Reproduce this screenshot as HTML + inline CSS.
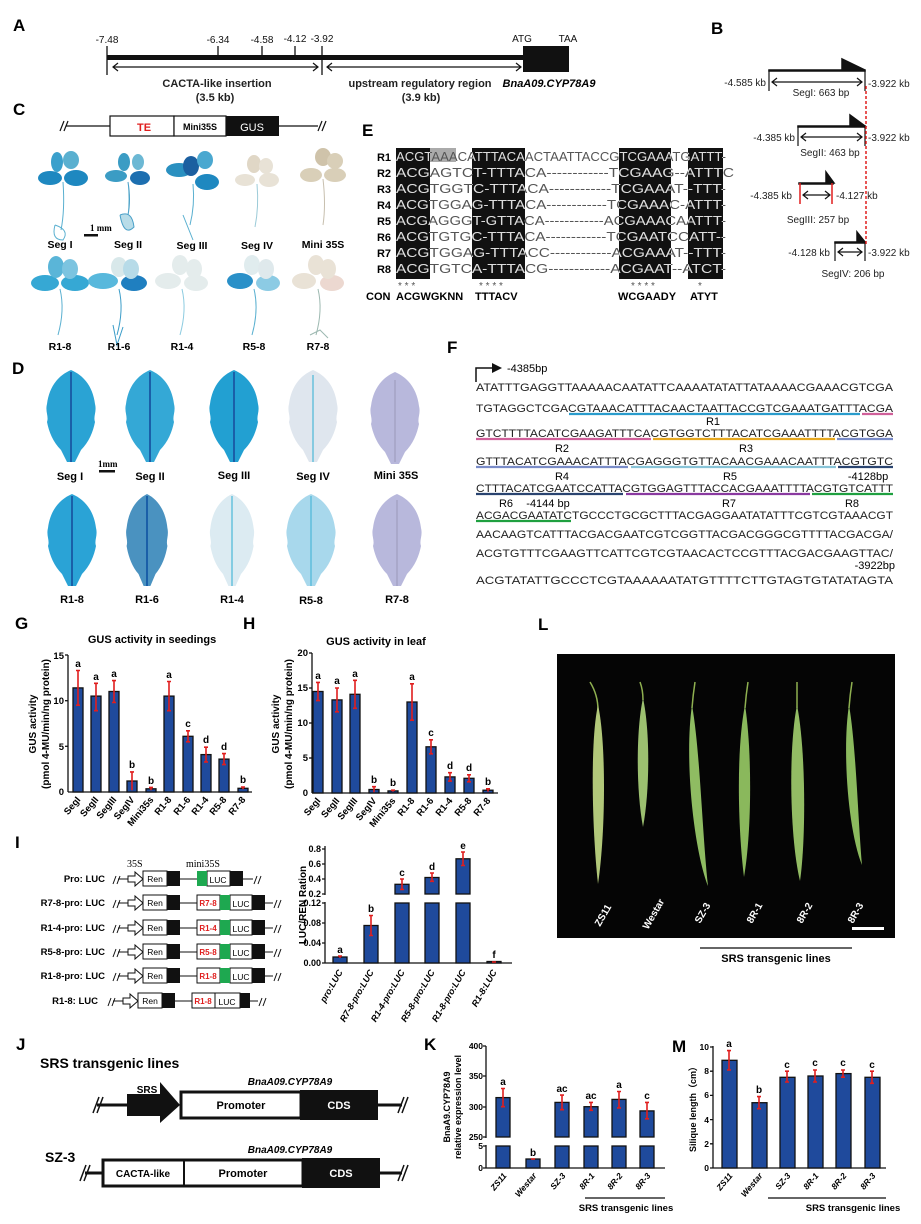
<!DOCTYPE html>
<html><head><meta charset="utf-8"><style>
html,body{margin:0;padding:0;background:#fff}
svg{display:block}
text{font-family:"Liberation Sans",sans-serif}
.b{font-weight:bold}
.ser{font-family:"Liberation Serif",serif}
.mono{font-family:"Liberation Mono",monospace}
.bar{fill:#1f4a9c;stroke:#111;stroke-width:1.3}
.err{stroke:#e01e1e;stroke-width:1.6;fill:none}
.ax{stroke:#111;stroke-width:1.3;fill:none}
</style></head><body>
<svg width="921" height="1224" viewBox="0 0 921 1224" xmlns="http://www.w3.org/2000/svg">
<rect width="921" height="1224" fill="#fff"/>

<!-- A -->
<text x="13" y="31" class="b" font-size="17">A</text>
<g font-size="10" text-anchor="middle" fill="#111">
<text x="107" y="43">-7.48</text><text x="218" y="43">-6.34</text><text x="262" y="43">-4.58</text><text x="295" y="42">-4.12</text><text x="322" y="42">-3.92</text>
<text x="522" y="42">ATG</text><text x="568" y="42">TAA</text></g>
<rect x="107" y="55" width="416" height="5" fill="#111"/>
<g class="ax"><line x1="107" y1="46" x2="107" y2="75"/><line x1="218" y1="46" x2="218" y2="56"/><line x1="262" y1="46" x2="262" y2="56"/><line x1="295" y1="46" x2="295" y2="56"/><line x1="322" y1="46" x2="322" y2="75"/></g>
<rect x="523" y="46" width="46" height="26" fill="#111"/>
<g stroke="#111" stroke-width="1.2" fill="none">
<line x1="113" y1="67" x2="318" y2="67"/><path d="M118 63 L113 67 L118 71 M313 63 L318 67 L313 71"/>
<line x1="327" y1="67" x2="521" y2="67"/><path d="M332 63 L327 67 L332 71 M516 63 L521 67 L516 71"/></g>
<g font-size="11" text-anchor="middle" fill="#222" class="b">
<text x="217" y="87">CACTA-like insertion</text><text x="215" y="101">(3.5 kb)</text>
<text x="420" y="87">upstream regulatory region</text><text x="421" y="101">(3.9 kb)</text></g>
<text x="549" y="87" font-size="11" text-anchor="middle" class="b" font-style="italic">BnaA09.CYP78A9</text>

<!-- B -->
<text x="711" y="34" class="b" font-size="17">B</text>
<g fill="#111" stroke="#111" stroke-width="1.5">
<path d="M769 70 L865 70 L865 71 L769 71Z M842 70 L842 59 L865 70Z"/>
<path d="M798 126 L865 126 L865 127 L798 127Z M850 126 L850 115 L865 126Z"/>
<path d="M799 183 L833 183 L833 184 L799 184Z M826 183 L826 172 L834 183Z"/>
<path d="M835 242 L865 242 L865 243 L835 243Z M857 242 L857 232 L865 242Z"/>
</g>
<g stroke="#111" stroke-width="1.2" fill="none">
<line x1="769" y1="70" x2="769" y2="91"/><line x1="865" y1="70" x2="865" y2="91"/>
<line x1="772" y1="82" x2="862" y2="82"/><path d="M777 78 L772 82 L777 86 M857 78 L862 82 L857 86"/>
<line x1="798" y1="126" x2="798" y2="146"/><line x1="865" y1="126" x2="865" y2="146"/>
<line x1="801" y1="137" x2="862" y2="137"/><path d="M806 133 L801 137 L806 141 M857 133 L862 137 L857 141"/>
<line x1="803" y1="195" x2="830" y2="195"/><path d="M808 191 L803 195 L808 199 M825 191 L830 195 L825 199"/>
<line x1="835" y1="242" x2="835" y2="261"/><line x1="865" y1="242" x2="865" y2="261"/>
<line x1="838" y1="252" x2="862" y2="252"/><path d="M843 248 L838 252 L843 256 M857 248 L862 252 L857 256"/>
</g>
<g stroke="#e01e1e" stroke-width="1.5"><line x1="800" y1="183" x2="800" y2="204"/><line x1="832" y1="183" x2="832" y2="204"/></g>
<line x1="866" y1="86" x2="866" y2="244" stroke="#e01e1e" stroke-width="1.5" stroke-dasharray="3,2"/>
<g font-size="10" fill="#222">
<text x="766" y="86" text-anchor="end">-4.585 kb</text><text x="868" y="87">-3.922 kb</text><text x="821" y="96" text-anchor="middle">SegI: 663 bp</text>
<text x="795" y="141" text-anchor="end">-4.385 kb</text><text x="868" y="141">-3.922 kb</text><text x="830" y="156" text-anchor="middle">SegII: 463 bp</text>
<text x="792" y="199" text-anchor="end">-4.385 kb</text><text x="836" y="199">-4.127 kb</text><text x="818" y="223" text-anchor="middle">SegIII: 257 bp</text>
<text x="830" y="256" text-anchor="end">-4.128 kb</text><text x="868" y="256">-3.922 kb</text><text x="853" y="277" text-anchor="middle">SegIV: 206 bp</text>
</g>

<!-- C -->
<text x="13" y="115" class="b" font-size="17">C</text>
<g stroke="#111" stroke-width="1.2" fill="none"><line x1="66" y1="126" x2="110" y2="126"/><line x1="279" y1="126" x2="318" y2="126"/>
<path d="M60 131 L64 121 M64 131 L68 121 M318 131 L322 121 M322 131 L326 121"/></g>
<rect x="110" y="116" width="64" height="20" fill="#fff" stroke="#111" stroke-width="1.2"/>
<rect x="174" y="116" width="52" height="20" fill="#fff" stroke="#111" stroke-width="1.2"/>
<rect x="226" y="116" width="53" height="20" fill="#111"/>
<text x="144" y="131" fill="#e01e1e" font-size="11" class="b" text-anchor="middle">TE</text>
<text x="200" y="130" font-size="9" class="b" text-anchor="middle">Mini35S</text>
<text x="252" y="131" font-size="11" fill="#fff" text-anchor="middle">GUS</text>

<!-- seedlings -->
<g>
<g transform="translate(63,170)" fill="#1e88c0"><ellipse cx="-13" cy="8" rx="12" ry="7"/><ellipse cx="13" cy="8" rx="12" ry="8"/><ellipse cx="-6" cy="-8" rx="6" ry="10" fill="#3aa0cc"/><ellipse cx="8" cy="-10" rx="8" ry="9" fill="#5ab0d0"/><path d="M0 12 Q2 40 -2 60 M-8 55 q15 5 8 15 q-12 0 -8 -15" stroke="#5ab0d0" fill="none"/></g>
<g transform="translate(128,170)" fill="#3b9cc4"><ellipse cx="-12" cy="6" rx="11" ry="6"/><ellipse cx="12" cy="8" rx="10" ry="7" fill="#1d6fb0"/><ellipse cx="-4" cy="-8" rx="6" ry="9"/><ellipse cx="10" cy="-8" rx="6" ry="8" fill="#6cb8d4"/><path d="M0 12 Q3 30 0 45 M-8 45 q12 -5 14 12 q-10 10 -14 -12" stroke="#4aa0c8" fill="#b8dce8"/></g>
<g transform="translate(193,170)" fill="#2a90c0"><ellipse cx="-14" cy="0" rx="13" ry="7"/><ellipse cx="14" cy="12" rx="12" ry="8" fill="#1e88c0"/><ellipse cx="-2" cy="-4" rx="8" ry="10" fill="#1b5fa0"/><ellipse cx="12" cy="-10" rx="8" ry="9" fill="#4aa8d0"/><path d="M0 14 Q2 35 -3 55 M-10 45 l10 25" stroke="#5ab0d0" fill="none"/></g>
<g transform="translate(257,172)" fill="#e8e2d6"><ellipse cx="-12" cy="8" rx="10" ry="6"/><ellipse cx="12" cy="8" rx="10" ry="7"/><ellipse cx="-3" cy="-8" rx="7" ry="9" fill="#e0d7c6"/><ellipse cx="9" cy="-6" rx="7" ry="8"/><path d="M0 12 Q2 35 -2 55" stroke="#9ccbd8" fill="none"/></g>
<g transform="translate(323,165)" fill="#d9cfb8"><ellipse cx="-12" cy="10" rx="11" ry="7"/><ellipse cx="12" cy="10" rx="11" ry="7"/><ellipse cx="0" cy="-8" rx="8" ry="9" fill="#cfc3aa"/><ellipse cx="12" cy="-4" rx="8" ry="8"/><path d="M0 14 Q3 40 0 60" stroke="#c7bfae" fill="none"/></g>
<g transform="translate(60,275)" fill="#36a8d4"><ellipse cx="-15" cy="8" rx="14" ry="8"/><ellipse cx="15" cy="8" rx="14" ry="8"/><ellipse cx="-4" cy="-8" rx="8" ry="11" fill="#5ab5d8"/><ellipse cx="10" cy="-6" rx="8" ry="10" fill="#7cc4e0"/><path d="M0 14 Q5 35 -2 60" stroke="#5ab0d0" fill="none"/></g>
<g transform="translate(119,275)" fill="#58b8dc"><ellipse cx="-16" cy="6" rx="15" ry="8"/><ellipse cx="15" cy="8" rx="13" ry="8" fill="#1f7fc0"/><ellipse cx="0" cy="-8" rx="8" ry="10" fill="#d8e8ea"/><ellipse cx="12" cy="-6" rx="8" ry="10" fill="#b7dbe8"/><path d="M0 14 Q5 35 -2 60 M-6 50 l4 20 l6 -18" stroke="#3a9cc8" fill="none"/></g>
<g transform="translate(182,275)" fill="#e4ecec"><ellipse cx="-14" cy="6" rx="13" ry="8"/><ellipse cx="14" cy="8" rx="12" ry="8"/><ellipse cx="-2" cy="-10" rx="8" ry="10"/><ellipse cx="12" cy="-6" rx="8" ry="10"/><path d="M0 14 Q5 35 -2 60" stroke="#8ccbe0" fill="none"/></g>
<g transform="translate(254,275)" fill="#8ccbe4"><ellipse cx="-14" cy="6" rx="13" ry="8" fill="#2a90c8"/><ellipse cx="14" cy="8" rx="12" ry="8"/><ellipse cx="-2" cy="-10" rx="8" ry="10" fill="#e0ecee"/><ellipse cx="12" cy="-6" rx="8" ry="10" fill="#dfe9ec"/><path d="M0 14 Q5 35 -2 60" stroke="#5ab0d0" fill="none"/></g>
<g transform="translate(318,275)" fill="#e9e2d6"><ellipse cx="-14" cy="6" rx="12" ry="8"/><ellipse cx="14" cy="8" rx="12" ry="8" fill="#ecd8d0"/><ellipse cx="-2" cy="-10" rx="8" ry="10"/><ellipse cx="10" cy="-6" rx="8" ry="10"/><path d="M0 14 Q5 35 -2 60 M-8 60 l10 -5 l8 8" stroke="#9cb8b0" fill="none"/></g>
</g>
<text x="90" y="231" class="b ser" font-size="9">1 mm</text><rect x="84" y="234" width="14" height="2.5" fill="#111"/>
<g font-size="10.5" class="b" text-anchor="middle">
<text x="60" y="248">Seg I</text><text x="128" y="248">Seg II</text><text x="192" y="249">Seg III</text><text x="257" y="249">Seg IV</text><text x="323" y="248">Mini 35S</text>
<text x="60" y="350">R1-8</text><text x="119" y="350">R1-6</text><text x="182" y="350">R1-4</text><text x="254" y="350">R5-8</text><text x="318" y="350">R7-8</text></g>

<!-- E -->
<text x="362" y="136" class="b" font-size="17">E</text>
<defs>
<clipPath id="blk"><rect x="396" y="148" width="34" height="131"/><rect x="472" y="148" width="53" height="131"/><rect x="619" y="148" width="52" height="131"/><rect x="688" y="148" width="35" height="131"/></clipPath>
</defs>
<g fill="#111"><rect x="396" y="148" width="34" height="131"/><rect x="472" y="148" width="53" height="131"/><rect x="619" y="148" width="52" height="131"/><rect x="688" y="148" width="35" height="131"/></g>
<rect x="430" y="148" width="26" height="14" fill="#aaa"/>
<g font-size="11" class="b" text-anchor="end">
<text x="391" y="161">R1</text><text x="391" y="177">R2</text><text x="391" y="193">R3</text><text x="391" y="209">R4</text><text x="391" y="225">R5</text><text x="391" y="241">R6</text><text x="391" y="257">R7</text><text x="391" y="273">R8</text></g>
<g class="mono" font-size="13" fill="#555">
<text x="396" y="161" textLength="330" lengthAdjust="spacingAndGlyphs">ACGTAAACATTTACAACTAATTACCGTCGAAATGATTT-</text>
<text x="396" y="177" textLength="338" lengthAdjust="spacingAndGlyphs">ACGAGTCT-TTTACA------------TCGAAG--ATTTC</text>
<text x="396" y="193" textLength="330" lengthAdjust="spacingAndGlyphs">ACGTGGTC-TTTACA------------TCGAAAT--TTT-</text>
<text x="396" y="209" textLength="330" lengthAdjust="spacingAndGlyphs">ACGTGGAG-TTTACA------------TCGAAAC-ATTT-</text>
<text x="396" y="225" textLength="330" lengthAdjust="spacingAndGlyphs">ACGAGGGT-GTTACA------------ACGAAACAATTT-</text>
<text x="396" y="241" textLength="330" lengthAdjust="spacingAndGlyphs">ACGTGTGC-TTTACA------------TCGAATCCATT--</text>
<text x="396" y="257" textLength="330" lengthAdjust="spacingAndGlyphs">ACGTGGAG-TTTACC------------ACGAAAT--TTT-</text>
<text x="396" y="273" textLength="330" lengthAdjust="spacingAndGlyphs">ACGTGTCA-TTTACG------------ACGAAT--ATCT-</text>
</g>
<g clip-path="url(#blk)" class="mono" font-size="13" fill="#ddd">
<text x="396" y="161" textLength="330" lengthAdjust="spacingAndGlyphs">ACGTAAACATTTACAACTAATTACCGTCGAAATGATTT-</text>
<text x="396" y="177" textLength="338" lengthAdjust="spacingAndGlyphs">ACGAGTCT-TTTACA------------TCGAAG--ATTTC</text>
<text x="396" y="193" textLength="330" lengthAdjust="spacingAndGlyphs">ACGTGGTC-TTTACA------------TCGAAAT--TTT-</text>
<text x="396" y="209" textLength="330" lengthAdjust="spacingAndGlyphs">ACGTGGAG-TTTACA------------TCGAAAC-ATTT-</text>
<text x="396" y="225" textLength="330" lengthAdjust="spacingAndGlyphs">ACGAGGGT-GTTACA------------ACGAAACAATTT-</text>
<text x="396" y="241" textLength="330" lengthAdjust="spacingAndGlyphs">ACGTGTGC-TTTACA------------TCGAATCCATT--</text>
<text x="396" y="257" textLength="330" lengthAdjust="spacingAndGlyphs">ACGTGGAG-TTTACC------------ACGAAAT--TTT-</text>
<text x="396" y="273" textLength="330" lengthAdjust="spacingAndGlyphs">ACGTGTCA-TTTACG------------ACGAAT--ATCT-</text>
</g>
<g font-size="10" fill="#555"><text x="398" y="289">* * *</text><text x="479" y="289">* * * *</text><text x="631" y="289">* * * *</text><text x="698" y="289">*</text></g>
<g font-size="11" class="b"><text x="366" y="300">CON</text><text x="396" y="300">ACGWGKNN</text><text x="475" y="300">TTTACV</text><text x="618" y="300">WCGAADY</text><text x="690" y="300">ATYT</text></g>

<!-- D leaves -->
<text x="12" y="374" class="b" font-size="17">D</text>
<defs><path id="leaf" d="M0 -46 C14 -40 22 -28 24 -12 C26 -4 22 0 24 6 C22 16 18 26 10 34 L4 46 L-4 46 L-10 34 C-18 26 -22 16 -24 6 C-22 0 -26 -4 -24 -12 C-22 -28 -14 -40 0 -46Z"/></defs>
<g>
<use href="#leaf" x="71" y="416" fill="#2aa3d4"/><use href="#leaf" x="150" y="416" fill="#34a8d6"/><use href="#leaf" x="234" y="416" fill="#22a0d2"/><use href="#leaf" x="313" y="416" fill="#dfe6ee"/><use href="#leaf" x="395" y="418" fill="#b8b8dc"/>
<use href="#leaf" x="72" y="540" fill="#2aa3d6"/><use href="#leaf" x="147" y="540" fill="#4a92c0" transform="translate(147 540) scale(0.85 1) translate(-147 -540)"/><use href="#leaf" x="232" y="540" fill="#dcebf2" transform="translate(232 540) scale(0.9 1) translate(-232 -540)"/><use href="#leaf" x="311" y="540" fill="#a8d8ec"/><use href="#leaf" x="397" y="540" fill="#b8b8dc"/>
</g>
<g stroke="#1a5fa8" stroke-width="2"><line x1="71" y1="372" x2="71" y2="462"/><line x1="150" y1="372" x2="150" y2="462"/><line x1="234" y1="372" x2="234" y2="462"/><line x1="72" y1="496" x2="72" y2="586"/><line x1="147" y1="496" x2="147" y2="586"/></g>
<g stroke="#4ab8d8" stroke-width="1.2"><line x1="313" y1="375" x2="313" y2="462"/><line x1="232" y1="496" x2="232" y2="586"/><line x1="311" y1="496" x2="311" y2="586"/></g>
<g stroke="#9a98b8" stroke-width="1"><line x1="395" y1="380" x2="395" y2="462"/><line x1="397" y1="500" x2="397" y2="586"/></g>
<text x="98" y="467" class="b ser" font-size="9">1mm</text><rect x="99" y="470" width="16" height="2.5" fill="#111"/>
<g font-size="11" class="b" text-anchor="middle">
<text x="70" y="480">Seg I</text><text x="150" y="480">Seg II</text><text x="234" y="479">Seg III</text><text x="313" y="480">Seg IV</text><text x="396" y="479">Mini 35S</text>
<text x="72" y="603">R1-8</text><text x="147" y="603">R1-6</text><text x="232" y="603">R1-4</text><text x="311" y="604">R5-8</text><text x="397" y="603">R7-8</text></g>

<!-- F -->
<text x="447" y="353" class="b" font-size="17">F</text>
<path d="M476 382 L476 368 L495 368" stroke="#111" stroke-width="1.5" fill="none"/><path d="M492 363 L502 368 L492 373Z" fill="#111"/>
<text x="507" y="372" font-size="11">-4385bp</text>
<g class="ser" font-size="11" fill="#222">
<text x="476" y="391" textLength="417" lengthAdjust="spacingAndGlyphs">ATATTTGAGGTTAAAAACAATATTCAAAATATATTATAAAACGAAACGTCGA</text>
<text x="476" y="412" textLength="417" lengthAdjust="spacingAndGlyphs">TGTAGGCTCGACGTAAACATTTACAACTAATTACCGTCGAAATGATTTACGA</text>
<text x="476" y="437" textLength="417" lengthAdjust="spacingAndGlyphs">GTCTTTTACATCGAAGATTTCACGTGGTCTTTACATCGAAATTTTACGTGGA</text>
<text x="476" y="465" textLength="417" lengthAdjust="spacingAndGlyphs">GTTTACATCGAAACATTTACGAGGGTGTTACAACGAAACAATTTACGTGTC</text>
<text x="476" y="492" textLength="417" lengthAdjust="spacingAndGlyphs">CTTTACATCGAATCCATTACGTGGAGTTTACCACGAAATTTTACGTGTCATTT</text>
<text x="476" y="519" textLength="417" lengthAdjust="spacingAndGlyphs">ACGACGAATATCTGCCCTGCGCTTTACGAGGAATATATTTCGTCGTAAACGT</text>
<text x="476" y="538" textLength="417" lengthAdjust="spacingAndGlyphs">AACAAGTCATTTACGACGAATCGTCGGTTACGACGGGCGTTTTACGACGA/</text>
<text x="476" y="557" textLength="417" lengthAdjust="spacingAndGlyphs">ACGTGTTTCGAAGTTCATTCGTCGTAACACTCCGTTTACGACGAAGTTAC/</text>
<text x="476" y="584" textLength="417" lengthAdjust="spacingAndGlyphs">ACGTATATTGCCCTCGTAAAAAATATGTTTTCTTGTAGTGTATATAGTA</text>
</g>
<g stroke-width="2.2">
<line x1="569" y1="414" x2="860" y2="414" stroke="#2a9ccc"/><line x1="862" y1="414" x2="893" y2="414" stroke="#d0609a"/>
<line x1="476" y1="439" x2="651" y2="439" stroke="#d0609a"/><line x1="653" y1="439" x2="835" y2="439" stroke="#e6a820"/><line x1="837" y1="439" x2="893" y2="439" stroke="#7a8cc8"/>
<line x1="476" y1="467" x2="628" y2="467" stroke="#7a8cc8"/><line x1="631" y1="467" x2="836" y2="467" stroke="#88c4d8"/><line x1="838" y1="467" x2="893" y2="467" stroke="#2a4470"/>
<line x1="476" y1="494" x2="623" y2="494" stroke="#2a4470"/><line x1="626" y1="494" x2="810" y2="494" stroke="#8a3aa0"/><line x1="812" y1="494" x2="893" y2="494" stroke="#1fa040"/>
<line x1="476" y1="521" x2="571" y2="521" stroke="#1fa040"/></g>
<g font-size="11" text-anchor="middle"><text x="713" y="425">R1</text><text x="562" y="452">R2</text><text x="746" y="452">R3</text><text x="562" y="480">R4</text><text x="730" y="480">R5</text><text x="868" y="480">-4128bp</text>
<text x="506" y="507">R6</text><text x="548" y="507">-4144 bp</text><text x="729" y="507">R7</text><text x="852" y="507">R8</text><text x="895" y="569" text-anchor="end">-3922bp</text></g>

<!-- L -->
<text x="538" y="630" class="b" font-size="17">L</text>
<rect x="557" y="654" width="338" height="284" fill="#050505"/>
<g stroke-width="1.5" stroke="#8fb050" fill="none"><path d="M590 682 Q598 695 598 710"/><path d="M640 682 Q643 690 643 700"/><path d="M695 682 Q693 695 692 708"/><path d="M748 682 Q746 695 745 708"/><path d="M797 682 Q797 695 797 708"/><path d="M852 682 Q850 695 849 708"/></g>
<g>
<path d="M598 705 C606 740 606 830 598 884 C592 830 590 740 598 705Z" fill="#b2c87a"/>
<path d="M643 698 C650 730 650 790 643 827 C636 790 636 730 643 698Z" fill="#9cc070"/>
<path d="M692 705 C700 750 702 830 708 886 C694 850 684 760 692 705Z" fill="#8fbc62"/>
<path d="M745 705 C752 750 752 830 744 877 C738 830 736 750 745 705Z" fill="#8ab85c"/>
<path d="M797 705 C806 750 806 840 800 881 C790 840 788 750 797 705Z" fill="#93bc64"/>
<path d="M849 705 C856 745 858 820 862 865 C848 830 842 750 849 705Z" fill="#8cba5e"/>
</g>
<g fill="#fff" font-size="10" class="b">
<text transform="translate(600,927) rotate(-60)">ZS11</text><text transform="translate(648,930) rotate(-60)">Westar</text><text transform="translate(700,924) rotate(-60)">SZ-3</text><text transform="translate(752,924) rotate(-60)">8R-1</text><text transform="translate(802,924) rotate(-60)">8R-2</text><text transform="translate(853,924) rotate(-60)">8R-3</text></g>
<rect x="852" y="927" width="32" height="3" fill="#fff"/>
<line x1="700" y1="948" x2="852" y2="948" stroke="#333" stroke-width="1.5"/>
<text x="776" y="962" font-size="11" class="b" text-anchor="middle">SRS transgenic lines</text>

<!-- G -->
<text x="15" y="629" class="b" font-size="17">G</text>
<text x="152" y="643" font-size="11" class="b" text-anchor="middle">GUS activity in seedings</text>
<g font-size="9.5" class="b" text-anchor="end"><text x="64" y="795">0</text><text x="64" y="750">5</text><text x="64" y="704">10</text><text x="64" y="659">15</text></g>
<g class="ax"><line x1="68" y1="655" x2="68" y2="792"/><line x1="68" y1="792" x2="252" y2="792"/><line x1="65" y1="655" x2="68" y2="655"/><line x1="65" y1="700.7" x2="68" y2="700.7"/><line x1="65" y1="746.3" x2="68" y2="746.3"/></g>
<text transform="translate(36,724) rotate(-90)" font-size="10" class="b" text-anchor="middle">GUS activity</text>
<text transform="translate(49,724) rotate(-90)" font-size="10" class="b" text-anchor="middle">(pmol 4-MU/min/ng protein)</text>
<g class="bar">
<rect x="73" y="687.9" width="10" height="104.1"/><rect x="91" y="696.1" width="10" height="95.9"/><rect x="109" y="691.5" width="10" height="100.5"/><rect x="127" y="781" width="10" height="11"/><rect x="146" y="788.8" width="10" height="3.2"/><rect x="164" y="696.1" width="10" height="95.9"/><rect x="183" y="736.3" width="10" height="55.7"/><rect x="201" y="754.6" width="10" height="37.4"/><rect x="219" y="759.1" width="10" height="32.9"/><rect x="238" y="788.3" width="10" height="3.7"/></g>
<g class="err">
<path d="M78 705.2V670.5M76 670.5h4M76 705.2h4"/><path d="M96 710.7V683.3M94 683.3h4M94 710.7h4"/><path d="M114 702.5V680.6M112 680.6h4M112 702.5h4"/><path d="M132 790.2V771.9M130 771.9h4"/><path d="M151 790.2V787.4M149 787.4h4"/><path d="M169 710.7V681.5M167 681.5h4M167 710.7h4"/><path d="M188 741.8V730.8M186 730.8h4M186 741.8h4"/><path d="M206 761.9V747.2M204 747.2h4M204 761.9h4"/><path d="M224 764.6V753.6M222 753.6h4M222 764.6h4"/><path d="M243 789.3V787M241 787h4"/></g>
<g font-size="10" class="b" text-anchor="middle"><text x="78" y="667">a</text><text x="96" y="680">a</text><text x="114" y="677">a</text><text x="132" y="768">b</text><text x="151" y="784">b</text><text x="169" y="678">a</text><text x="188" y="727">c</text><text x="206" y="743">d</text><text x="224" y="750">d</text><text x="243" y="783">b</text></g>
<g font-size="9.5" class="b" text-anchor="end">
<text transform="translate(81,800) rotate(-50)">SegI</text><text transform="translate(99,800) rotate(-50)">SegII</text><text transform="translate(117,800) rotate(-50)">SegIII</text><text transform="translate(135,800) rotate(-50)">SegIV</text><text transform="translate(154,800) rotate(-50)">Mini35s</text><text transform="translate(172,800) rotate(-50)">R1-8</text><text transform="translate(191,800) rotate(-50)">R1-6</text><text transform="translate(209,800) rotate(-50)">R1-4</text><text transform="translate(227,800) rotate(-50)">R5-8</text><text transform="translate(246,800) rotate(-50)">R7-8</text></g>

<!-- H -->
<text x="243" y="629" class="b" font-size="17">H</text>
<text x="376" y="645" font-size="11" class="b" text-anchor="middle">GUS activity in leaf</text>
<g font-size="9.5" class="b" text-anchor="end"><text x="308" y="796">0</text><text x="308" y="761">5</text><text x="308" y="726">10</text><text x="308" y="691">15</text><text x="308" y="656">20</text></g>
<g class="ax"><line x1="312" y1="653" x2="312" y2="793"/><line x1="312" y1="793" x2="498" y2="793"/><line x1="309" y1="653" x2="312" y2="653"/><line x1="309" y1="688" x2="312" y2="688"/><line x1="309" y1="723" x2="312" y2="723"/><line x1="309" y1="758" x2="312" y2="758"/></g>
<text transform="translate(279,724) rotate(-90)" font-size="10" class="b" text-anchor="middle">GUS activity</text>
<text transform="translate(292,724) rotate(-90)" font-size="10" class="b" text-anchor="middle">(pmol 4-MU/min/ng protein)</text>
<g class="bar">
<rect x="313" y="691.5" width="10" height="101.5"/><rect x="332" y="699.9" width="10" height="93.1"/><rect x="350" y="694.3" width="10" height="98.7"/><rect x="369" y="789.5" width="10" height="3.5"/><rect x="388" y="790.9" width="10" height="2.1"/><rect x="407" y="702" width="10" height="91"/><rect x="426" y="746.8" width="10" height="46.2"/><rect x="445" y="776.9" width="10" height="16.1"/><rect x="464" y="778.3" width="10" height="14.7"/><rect x="483" y="790.2" width="10" height="2.8"/></g>
<g class="err">
<path d="M318 700.6V682.4M316 682.4h4M316 700.6h4"/><path d="M337 711.8V688M335 688h4M335 711.8h4"/><path d="M355 708.3V680.3M353 680.3h4M353 708.3h4"/><path d="M374 792.3V786.7M372 786.7h4"/><path d="M393 791.6V790.2M391 790.2h4"/><path d="M412 720.2V683.8M410 683.8h4M410 720.2h4"/><path d="M431 753.8V739.8M429 739.8h4M429 753.8h4"/><path d="M450 781.1V772.7M448 772.7h4M448 781.1h4"/><path d="M469 781.8V774.8M467 774.8h4M467 781.8h4"/><path d="M488 791.6V788.8M486 788.8h4"/></g>
<g font-size="10" class="b" text-anchor="middle"><text x="318" y="679">a</text><text x="337" y="684">a</text><text x="355" y="677">a</text><text x="374" y="783">b</text><text x="393" y="786">b</text><text x="412" y="680">a</text><text x="431" y="736">c</text><text x="450" y="769">d</text><text x="469" y="771">d</text><text x="488" y="785">b</text></g>
<g font-size="9.5" class="b" text-anchor="end">
<text transform="translate(321,801) rotate(-50)">SegI</text><text transform="translate(340,801) rotate(-50)">SegII</text><text transform="translate(358,801) rotate(-50)">SegIII</text><text transform="translate(377,801) rotate(-50)">SegIV</text><text transform="translate(396,801) rotate(-50)">Mini35s</text><text transform="translate(415,801) rotate(-50)">R1-8</text><text transform="translate(434,801) rotate(-50)">R1-6</text><text transform="translate(453,801) rotate(-50)">R1-4</text><text transform="translate(472,801) rotate(-50)">R5-8</text><text transform="translate(491,801) rotate(-50)">R7-8</text></g>

<!-- I constructs -->
<text x="15" y="848" class="b" font-size="17">I</text>
<text x="127" y="867" class="ser" font-size="10">35S</text><text x="186" y="867" class="ser" font-size="10">mini35S</text>
<g font-size="9.5" class="b" text-anchor="end"><text x="105" y="882">Pro: LUC</text><text x="105" y="906">R7-8-pro: LUC</text><text x="105" y="931">R1-4-pro: LUC</text><text x="105" y="955">R5-8-pro: LUC</text><text x="105" y="979">R1-8-pro: LUC</text><text x="98" y="1004">R1-8: LUC</text></g>
<g stroke="#111" stroke-width="1" fill="none">
<path d="M113 884 l3 -8 M117 884 l3 -8 M118 879 H128 M180 879 H197 M243 879 H253 M254 884 l3 -8 M258 884 l3 -8"/>
<path d="M113 908 l3 -8 M117 908 l3 -8 M118 903 H128 M180 903 H197 M265 903 H273 M274 908 l3 -8 M278 908 l3 -8"/>
<path d="M113 933 l3 -8 M117 933 l3 -8 M118 928 H128 M180 928 H197 M265 928 H273 M274 933 l3 -8 M278 933 l3 -8"/>
<path d="M113 957 l3 -8 M117 957 l3 -8 M118 952 H128 M180 952 H197 M265 952 H273 M274 957 l3 -8 M278 957 l3 -8"/>
<path d="M113 981 l3 -8 M117 981 l3 -8 M118 976 H128 M180 976 H197 M265 976 H273 M274 981 l3 -8 M278 981 l3 -8"/>
<path d="M108 1006 l3 -8 M112 1006 l3 -8 M113 1001 H123 M175 1001 H192 M250 1001 H258 M259 1006 l3 -8 M263 1006 l3 -8"/>
</g>
<g stroke="#111" stroke-width="1" fill="#fff">
<path d="M128 876 h7 v-4 l8 7 l-8 7 v-4 h-7z"/><rect x="143" y="871" width="24" height="15"/><rect x="207" y="871" width="23" height="15"/>
<path d="M128 900 h7 v-4 l8 7 l-8 7 v-4 h-7z"/><rect x="143" y="895" width="24" height="15"/><rect x="197" y="895" width="23" height="15"/><rect x="230" y="895" width="22" height="15"/>
<path d="M128 925 h7 v-4 l8 7 l-8 7 v-4 h-7z"/><rect x="143" y="920" width="24" height="15"/><rect x="197" y="920" width="23" height="15"/><rect x="230" y="920" width="22" height="15"/>
<path d="M128 949 h7 v-4 l8 7 l-8 7 v-4 h-7z"/><rect x="143" y="944" width="24" height="15"/><rect x="197" y="944" width="23" height="15"/><rect x="230" y="944" width="22" height="15"/>
<path d="M128 973 h7 v-4 l8 7 l-8 7 v-4 h-7z"/><rect x="143" y="968" width="24" height="15"/><rect x="197" y="968" width="23" height="15"/><rect x="230" y="968" width="22" height="15"/>
<path d="M123 998 h7 v-4 l8 7 l-8 7 v-4 h-7z"/><rect x="138" y="993" width="24" height="15"/><rect x="192" y="993" width="23" height="15"/><rect x="215" y="993" width="25" height="15"/>
</g>
<g fill="#111"><rect x="167" y="871" width="13" height="15"/><rect x="230" y="871" width="13" height="15"/><rect x="167" y="895" width="13" height="15"/><rect x="252" y="895" width="13" height="15"/><rect x="167" y="920" width="13" height="15"/><rect x="252" y="920" width="13" height="15"/><rect x="167" y="944" width="13" height="15"/><rect x="252" y="944" width="13" height="15"/><rect x="167" y="968" width="13" height="15"/><rect x="252" y="968" width="13" height="15"/><rect x="162" y="993" width="13" height="15"/><rect x="240" y="993" width="10" height="15"/></g>
<g fill="#1ea850"><rect x="197" y="871" width="10" height="15"/><rect x="220" y="895" width="10" height="15"/><rect x="220" y="920" width="10" height="15"/><rect x="220" y="944" width="10" height="15"/><rect x="220" y="968" width="10" height="15"/></g>
<g class="ser" font-size="8.5" text-anchor="middle"><text x="155" y="882">Ren</text><text x="218" y="883">LUC</text>
<text x="155" y="906">Ren</text><text x="241" y="907">LUC</text><text x="155" y="931">Ren</text><text x="241" y="932">LUC</text><text x="155" y="955">Ren</text><text x="241" y="956">LUC</text><text x="155" y="979">Ren</text><text x="241" y="980">LUC</text><text x="150" y="1004">Ren</text><text x="227" y="1005">LUC</text></g>
<g class="ser b" font-size="8" fill="#e01e1e" text-anchor="middle"><text x="208" y="906">R7-8</text><text x="208" y="931">R1-4</text><text x="208" y="955">R5-8</text><text x="208" y="979">R1-8</text><text x="203" y="1004">R1-8</text></g>

<!-- I chart -->
<g font-size="9" class="b" text-anchor="end"><text x="321" y="852">0.8</text><text x="321" y="867">0.6</text><text x="321" y="882">0.4</text><text x="321" y="897">0.2</text><text x="321" y="906">0.12</text><text x="321" y="926">0.08</text><text x="321" y="946">0.04</text><text x="321" y="966">0.00</text></g>
<g class="ax"><line x1="325" y1="846" x2="325" y2="895"/><line x1="325" y1="902" x2="325" y2="963"/><line x1="325" y1="963" x2="512" y2="963"/>
<path d="M322 849h3M322 864h3M322 879h3M322 894h3M322 903h3M322 923h3M322 943h3M322 963h3"/></g>
<text transform="translate(306,905) rotate(-90)" font-size="10" class="b" text-anchor="middle">LUC/REN Ration</text>
<g class="bar">
<rect x="333" y="957" width="14" height="6"/><rect x="364" y="925.5" width="14" height="37.5"/>
<rect x="395" y="884.3" width="14" height="9.7"/><rect x="395" y="903" width="14" height="60"/>
<rect x="425" y="877.5" width="14" height="16.5"/><rect x="425" y="903" width="14" height="60"/>
<rect x="456" y="858.8" width="14" height="35.2"/><rect x="456" y="903" width="14" height="60"/>
<rect x="487" y="961.5" width="14" height="1.5"/></g>
<g class="err"><path d="M340 958V956M338 956h4"/><path d="M371 935.5V915.5M369 915.5h4M369 935.5h4"/><path d="M402 889.5V879M400 879h4M400 889.5h4"/><path d="M432 881.3V873M430 873h4M430 881.3h4"/><path d="M463 865.5V852M461 852h4M461 865.5h4"/><path d="M492 962h4"/></g>
<g font-size="10" class="b" text-anchor="middle"><text x="340" y="953">a</text><text x="371" y="912">b</text><text x="402" y="876">c</text><text x="432" y="870">d</text><text x="463" y="849">e</text><text x="494" y="958">f</text></g>
<g font-size="9" class="b" font-style="italic" text-anchor="end">
<text transform="translate(343,972) rotate(-60)">pro:LUC</text><text transform="translate(374,972) rotate(-60)">R7-8-pro:LUC</text><text transform="translate(405,972) rotate(-60)">R1-4-pro:LUC</text><text transform="translate(435,972) rotate(-60)">R5-8-pro:LUC</text><text transform="translate(466,972) rotate(-60)">R1-8-pro:LUC</text><text transform="translate(497,972) rotate(-60)">R1-8:LUC</text></g>

<!-- J -->
<text x="16" y="1050" class="b" font-size="17">J</text>
<text x="40" y="1068" font-size="14" class="b">SRS transgenic lines</text>
<text x="147" y="1093" font-size="10" class="b" text-anchor="middle">SRS</text>
<text x="290" y="1085" font-size="10" class="b" font-style="italic" text-anchor="middle">BnaA09.CYP78A9</text>
<g stroke="#111" stroke-width="3"><line x1="97" y1="1105" x2="127" y2="1105"/><line x1="378" y1="1105" x2="402" y2="1105"/><line x1="85" y1="1173" x2="102" y2="1173"/><line x1="380" y1="1173" x2="402" y2="1173"/></g>
<g stroke="#111" stroke-width="1.5"><path d="M93 1113 l6 -16 M97 1113 l6 -16 M398 1113 l6 -16 M402 1113 l6 -16 M80 1181 l6 -16 M84 1181 l6 -16 M398 1181 l6 -16 M402 1181 l6 -16"/></g>
<path d="M127 1094 H160 V1082 L180 1105 L160 1123 V1116 H127Z" fill="#111"/>
<rect x="181" y="1092" width="120" height="26" fill="#fff" stroke="#111" stroke-width="3"/>
<rect x="300" y="1090" width="78" height="30" fill="#111"/>
<text x="241" y="1109" font-size="11" class="b" text-anchor="middle">Promoter</text>
<text x="339" y="1109" font-size="11" class="b" fill="#fff" text-anchor="middle">CDS</text>
<text x="45" y="1162" font-size="14" class="b">SZ-3</text>
<text x="290" y="1153" font-size="10" class="b" font-style="italic" text-anchor="middle">BnaA09.CYP78A9</text>
<rect x="103" y="1160" width="200" height="26" fill="#fff" stroke="#111" stroke-width="3"/>
<line x1="184" y1="1160" x2="184" y2="1186" stroke="#111" stroke-width="2"/>
<rect x="302" y="1158" width="78" height="30" fill="#111"/>
<text x="143" y="1177" font-size="10" class="b" text-anchor="middle">CACTA-like</text>
<text x="243" y="1177" font-size="11" class="b" text-anchor="middle">Promoter</text>
<text x="341" y="1177" font-size="11" class="b" fill="#fff" text-anchor="middle">CDS</text>

<!-- K -->
<text x="424" y="1050" class="b" font-size="17">K</text>
<g font-size="8.5" class="b" text-anchor="end"><text x="483" y="1049">400</text><text x="483" y="1079">350</text><text x="483" y="1110">300</text><text x="483" y="1140">250</text><text x="483" y="1149">5</text><text x="483" y="1171">0</text></g>
<g class="ax"><line x1="486" y1="1046" x2="486" y2="1138"/><line x1="486" y1="1145" x2="486" y2="1168"/><line x1="486" y1="1168" x2="665" y2="1168"/><path d="M483 1046h3M483 1076h3M483 1107h3M483 1137h3M483 1146h3M483 1168h3"/></g>
<text transform="translate(450,1107) rotate(-90)" font-size="9" class="b" text-anchor="middle">BnaA9.CYP78A9</text>
<text transform="translate(461,1107) rotate(-90)" font-size="9" class="b" text-anchor="middle">relative expression level</text>
<g class="bar">
<rect x="496" y="1097.6" width="14" height="39.4"/><rect x="496" y="1146" width="14" height="22"/>
<rect x="526" y="1159" width="14" height="9"/>
<rect x="555" y="1102.4" width="14" height="34.6"/><rect x="555" y="1146" width="14" height="22"/>
<rect x="584" y="1106.7" width="14" height="30.3"/><rect x="584" y="1146" width="14" height="22"/>
<rect x="612" y="1099.4" width="14" height="37.6"/><rect x="612" y="1146" width="14" height="22"/>
<rect x="640" y="1110.9" width="14" height="26.1"/><rect x="640" y="1146" width="14" height="22"/></g>
<g class="err"><path d="M503 1106.7V1088.5M501 1088.5h4M501 1106.7h4"/><path d="M531 1159h4"/><path d="M562 1109.7V1095.1M560 1095.1h4M560 1109.7h4"/><path d="M591 1110.3V1102.4M589 1102.4h4M589 1110.3h4"/><path d="M619 1107.9V1091.5M617 1091.5h4M617 1107.9h4"/><path d="M647 1118.8V1102.4M645 1102.4h4M645 1118.8h4"/></g>
<g font-size="10" class="b" text-anchor="middle"><text x="503" y="1085">a</text><text x="533" y="1156">b</text><text x="562" y="1092">ac</text><text x="591" y="1099">ac</text><text x="619" y="1088">a</text><text x="647" y="1099">c</text></g>
<g font-size="8.5" class="b" font-style="italic" text-anchor="end">
<text transform="translate(507,1176) rotate(-50)">ZS11</text><text transform="translate(537,1176) rotate(-50)">Westar</text><text transform="translate(566,1176) rotate(-50)">SZ-3</text><text transform="translate(595,1176) rotate(-50)">8R-1</text><text transform="translate(623,1176) rotate(-50)">8R-2</text><text transform="translate(651,1176) rotate(-50)">8R-3</text></g>
<line x1="585" y1="1198" x2="665" y2="1198" stroke="#333" stroke-width="1.5"/>
<text x="626" y="1211" font-size="9.5" class="b" text-anchor="middle">SRS transgenic lines</text>

<!-- M -->
<text x="672" y="1052" class="b" font-size="17">M</text>
<g font-size="8.5" class="b" text-anchor="end"><text x="709" y="1050">10</text><text x="709" y="1074">8</text><text x="709" y="1098">6</text><text x="709" y="1123">4</text><text x="709" y="1147">2</text><text x="709" y="1171">0</text></g>
<g class="ax"><line x1="713" y1="1046" x2="713" y2="1168"/><line x1="713" y1="1168" x2="886" y2="1168"/><path d="M710 1047h3M710 1071.2h3M710 1095.4h3M710 1119.6h3M710 1143.8h3M710 1168h3"/></g>
<text transform="translate(696,1107) rotate(-90)" font-size="9" class="b" text-anchor="middle">Silique length（cm）</text>
<g class="bar">
<rect x="722" y="1060.3" width="15" height="107.7"/><rect x="752" y="1102.7" width="15" height="65.3"/><rect x="780" y="1077.3" width="15" height="90.7"/><rect x="808" y="1076" width="15" height="92"/><rect x="836" y="1073.6" width="15" height="94.4"/><rect x="865" y="1077.3" width="15" height="90.7"/></g>
<g class="err"><path d="M729 1070V1050.6M727 1050.6h4M727 1070h4"/><path d="M759 1108.7V1096.6M757 1096.6h4M757 1108.7h4"/><path d="M787 1082V1071.2M785 1071.2h4M785 1082h4"/><path d="M815 1082V1070M813 1070h4M813 1082h4"/><path d="M843 1077.2V1070M841 1070h4M841 1077.2h4"/><path d="M872 1083.3V1071.2M870 1071.2h4M870 1083.3h4"/></g>
<g font-size="10" class="b" text-anchor="middle"><text x="729" y="1047">a</text><text x="759" y="1093">b</text><text x="787" y="1068">c</text><text x="815" y="1066">c</text><text x="843" y="1066">c</text><text x="872" y="1068">c</text></g>
<g font-size="8.5" class="b" font-style="italic" text-anchor="end">
<text transform="translate(733,1176) rotate(-50)">ZS11</text><text transform="translate(763,1176) rotate(-50)">Westar</text><text transform="translate(791,1176) rotate(-50)">SZ-3</text><text transform="translate(819,1176) rotate(-50)">8R-1</text><text transform="translate(847,1176) rotate(-50)">8R-2</text><text transform="translate(876,1176) rotate(-50)">8R-3</text></g>
<line x1="768" y1="1198" x2="886" y2="1198" stroke="#333" stroke-width="1.5"/>
<text x="853" y="1211" font-size="9.5" class="b" text-anchor="middle">SRS transgenic lines</text>
</svg>
</body></html>
